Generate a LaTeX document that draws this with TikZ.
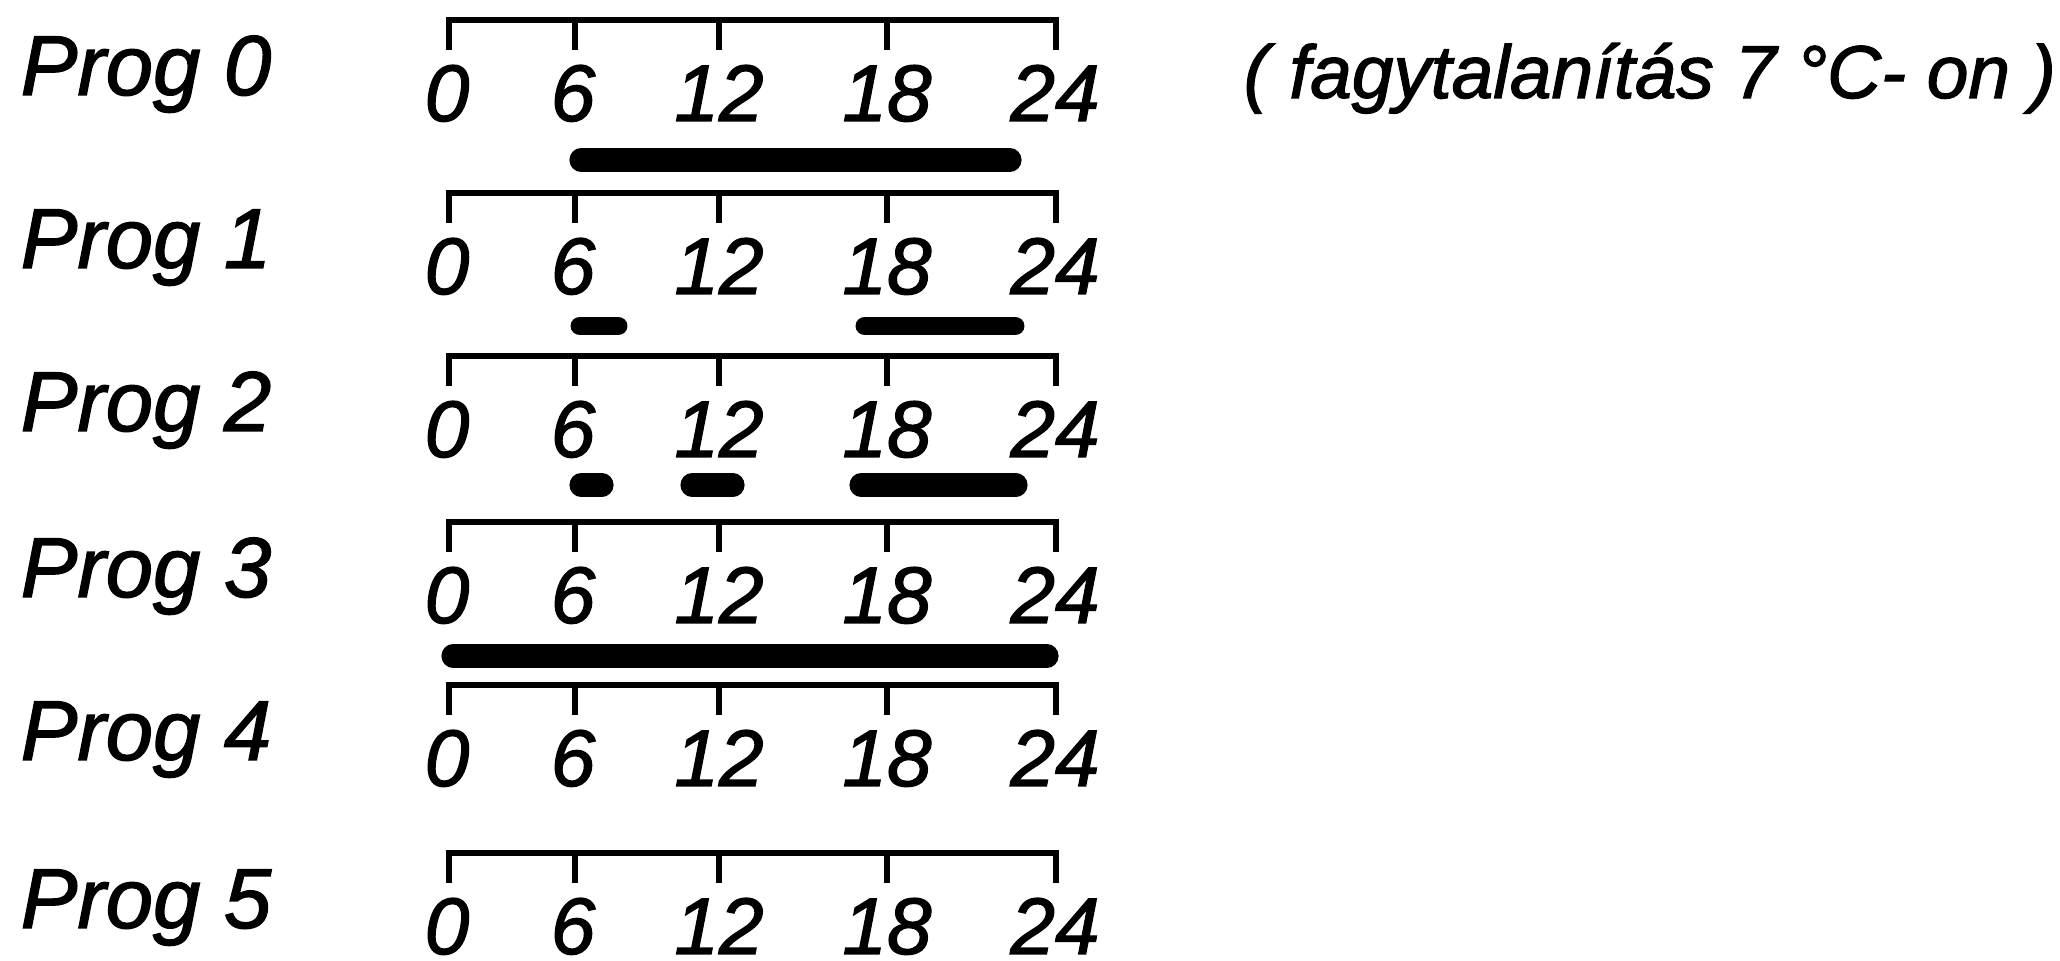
\documentclass[tikz,border=0pt]{standalone}
\usepackage{fontspec}
\setmainfont{Liberation Sans}[ItalicFeatures={FakeBold=1.6}]
\usetikzlibrary{positioning}

\tikzset{
  axis/.style={line width=1.7pt},
  period/.style={line width=6.6pt,line cap=round},
  hour/.style={font=\fontsize{22.8}{27}\selectfont\itshape,anchor=base,inner sep=0pt},
  prog/.style={font=\fontsize{24.2}{29}\selectfont\itshape,anchor=base west,inner sep=0pt},
  note/.style={font=\fontsize{21.3}{25}\selectfont\itshape,anchor=base west,inner sep=0pt}
}

\begin{document}
\begin{tikzpicture}
  \useasboundingbox (0,0) rectangle (20.6,9.61);
  % one time axis per program
  \foreach \r/\y in {0/9.41,1/7.68,2/6.05,3/4.39,4/2.76,5/1.08} {
    \draw[axis] (4.49,\y-0.30) -- (4.49,\y) -- (10.56,\y) -- (10.56,\y-0.30);
    \foreach \x in {5.75,7.19,8.87} \draw[axis] (\x,\y) -- (\x,\y-0.30);
    \foreach \t/\x in {0/4.47,6/5.73,12/7.19,18/8.87,24/10.55}
      \node[hour] (h\r-\t) at (\x,\y-1.01) {\t};
    \node[prog] (p\r) at (0.20,\y-0.75) {Prog \r};
  }
  \node[note] (note) at (12.43,8.63) {( fagytalanítás 7 °C- on )};
  % heating periods
  \draw[period] (5.81,8.01) -- (10.10,8.01);
  \draw[period,line width=5.4pt] (5.80,6.35) -- (6.18,6.35);
  \draw[period,line width=5.4pt] (8.65,6.35) -- (10.15,6.35);
  \draw[period] (5.81,4.76) -- (6.02,4.76);
  \draw[period] (6.92,4.76) -- (7.33,4.76);
  \draw[period] (8.61,4.76) -- (10.16,4.76);
  \draw[period] (4.53,3.05) -- (10.47,3.05);
\end{tikzpicture}
\end{document}
